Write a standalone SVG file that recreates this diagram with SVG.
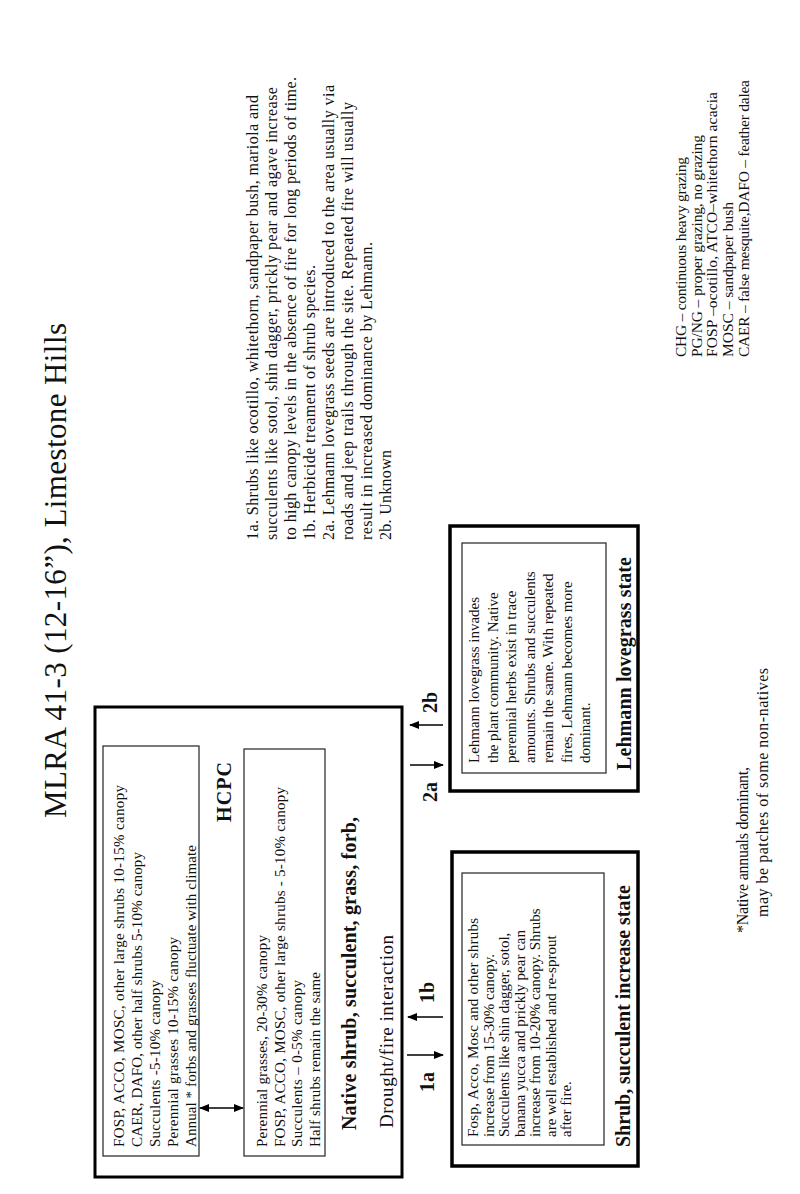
<svg xmlns="http://www.w3.org/2000/svg" width="800" height="1194" viewBox="0 0 800 1194">
<defs>
<style>
text{font-family:"Liberation Serif","Times New Roman",serif;fill:#111;}
.t15{font-size:15px;}
.t16{font-size:16px;}
.t14{font-size:15.5px;}
.fn{font-size:16px;}
.b20{font-size:20px;font-weight:bold;}
.title{font-size:31px;}
.outer{fill:none;stroke:#000;stroke-width:3.5;}
.main{fill:none;stroke:#000;stroke-width:3;}
.inner{fill:none;stroke:#222;stroke-width:1.2;}
.conn{stroke:#000;stroke-width:1.3;fill:none;}
</style>
<marker id="ah" markerWidth="10" markerHeight="8" refX="9" refY="4" orient="auto" markerUnits="userSpaceOnUse">
<path d="M0,0 L10,4 L0,8 Z" fill="#000"/>
</marker>
<marker id="ahs" markerWidth="10" markerHeight="8" refX="1" refY="4" orient="auto" markerUnits="userSpaceOnUse">
<path d="M10,0 L0,4 L10,8 Z" fill="#000"/>
</marker>
</defs>
<rect width="800" height="1194" fill="#fff"/>

<g id="title">
<text class="title" transform="translate(66,818) rotate(-90)" textLength="495">MLRA 41-3 (12-16”), Limestone Hills</text>
</g>

<g id="notes">
<text class="t16" transform="translate(258,540) rotate(-90)" textLength="445">1a. Shrubs like ocotillo, whitethorn, sandpaper bush, mariola and</text>
<text class="t16" transform="translate(277,540) rotate(-90)" textLength="453">succulents like sotol, shin dagger, prickly pear and agave increase</text>
<text class="t16" transform="translate(296,540) rotate(-90)" textLength="463">to high canopy levels in the absence of fire for long periods of time.</text>
<text class="t16" transform="translate(315,540) rotate(-90)" textLength="275">1b. Herbicide treament of shrub species.</text>
<text class="t16" transform="translate(334,540) rotate(-90)" textLength="455">2a. Lehmann lovegrass seeds are introduced to the area usually via</text>
<text class="t16" transform="translate(353,540) rotate(-90)" textLength="438">roads and jeep trails through the site. Repeated fire will usually</text>
<text class="t16" transform="translate(372,540) rotate(-90)" textLength="298">result in increased dominance by Lehmann.</text>
<text class="t16" transform="translate(391,540) rotate(-90)" textLength="90">2b. Unknown</text>
</g>

<g id="legend">
<text class="t14" transform="translate(686,357) rotate(-90)" textLength="200">CHG – continuous heavy grazing</text>
<text class="t14" transform="translate(702,357) rotate(-90)" textLength="222">PG/NG – proper grazing, no grazing</text>
<text class="t14" transform="translate(717,357) rotate(-90)" textLength="265">FOSP –ocotillo, ATCO–whitethorn acacia</text>
<text class="t14" transform="translate(733,357) rotate(-90)" textLength="155">MOSC – sandpaper bush</text>
<text class="t14" transform="translate(749,357) rotate(-90)" textLength="277">CAER – false mesquite,DAFO – feather dalea</text>
</g>

<g id="footnote">
<text class="fn" transform="translate(748,933) rotate(-90)" textLength="166">*Native annuals dominant,</text>
<text class="fn" transform="translate(768,917) rotate(-90)" textLength="249">may be patches of some non-natives</text>
</g>

<g id="hcpc-state">
<rect class="main" x="95" y="707" width="307" height="470"/>
<g id="hcpc-a">
<rect class="inner" x="103" y="746" width="96" height="410"/>
<text class="t15" transform="translate(124,1147) rotate(-90)" textLength="362">FOSP, ACCO, MOSC, other large shrubs 10-15%  canopy</text>
<text class="t15" transform="translate(142,1147) rotate(-90)" textLength="295">CAER, DAFO, other half shrubs 5-10% canopy</text>
<text class="t15" transform="translate(160,1147) rotate(-90)" textLength="167">Succulents -5-10% canopy</text>
<text class="t15" transform="translate(178,1147) rotate(-90)" textLength="210">Perennial grasses 10-15% canopy</text>
<text class="t15" transform="translate(196,1147) rotate(-90)" textLength="302">Annual * forbs and grasses fluctuate with climate</text>
</g>
<g id="hcpc-b">
<rect class="inner" x="244" y="749" width="81" height="407"/>
<text class="t15" transform="translate(267,1147) rotate(-90)" textLength="212">Perennial grasses, 20-30% canopy</text>
<text class="t15" transform="translate(285,1147) rotate(-90)" textLength="360">FOSP, ACCO, MOSC, other large shrubs - 5-10% canopy</text>
<text class="t15" transform="translate(302,1147) rotate(-90)" textLength="167">Succulents – 0-5% canopy</text>
<text class="t15" transform="translate(320,1147) rotate(-90)" textLength="175">Half shrubs remain the same</text>
</g>
<text class="b20" transform="translate(231,822) rotate(-90)" textLength="60">HCPC</text>
<text class="b20" transform="translate(356,1130) rotate(-90)" textLength="313">Native shrub, succulent, grass, forb,</text>
<text style="font-size:19px" transform="translate(393,1128) rotate(-90)" textLength="193">Drought/fire interaction</text>
</g>

<g id="shrub-state">
<rect class="outer" x="452" y="852" width="186" height="314"/>
<rect class="inner" x="462" y="873" width="142" height="272"/>
<text class="t15" transform="translate(478,1137) rotate(-90)" textLength="219">Fosp, Acco, Mosc and other shrubs</text>
<text class="t15" transform="translate(493.5,1137) rotate(-90)">increase from 15-30% canopy.</text>
<text class="t15" transform="translate(509,1137) rotate(-90)">Succulents like shin dagger, sotol,</text>
<text class="t15" transform="translate(524.5,1137) rotate(-90)">banana yucca and prickly pear can</text>
<text class="t15" transform="translate(540,1137) rotate(-90)">increase from 10-20% canopy. Shrubs</text>
<text class="t15" transform="translate(555.5,1137) rotate(-90)">are well established and re-sprout</text>
<text class="t15" transform="translate(571,1137) rotate(-90)">after fire.</text>
<text class="b20" transform="translate(630,1147) rotate(-90)" textLength="262">Shrub, succulent increase state</text>
</g>

<g id="lehmann-state">
<rect class="outer" x="450" y="526" width="188" height="265"/>
<rect class="inner" x="462" y="543" width="144" height="230"/>
<text class="t15" transform="translate(479,763) rotate(-90)" textLength="166">Lehmann lovegrass invades</text>
<text class="t15" transform="translate(497.5,763) rotate(-90)">the plant community. Native</text>
<text class="t15" transform="translate(516,763) rotate(-90)">perennial herbs exist in trace</text>
<text class="t15" transform="translate(534.5,763) rotate(-90)">amounts.  Shrubs and succulents</text>
<text class="t15" transform="translate(553,763) rotate(-90)">remain the same. With repeated</text>
<text class="t15" transform="translate(571.5,763) rotate(-90)">fires, Lehmann becomes more</text>
<text class="t15" transform="translate(590,763) rotate(-90)">dominant.</text>
<text class="b20" transform="translate(631,770) rotate(-90)" textLength="213">Lehmann lovegrass state</text>
</g>

<g id="connectors">
<line class="conn" x1="200" y1="1108" x2="243" y2="1108" marker-start="url(#ahs)" marker-end="url(#ah)"/>
<line class="conn" x1="407" y1="1055" x2="443" y2="1055" marker-end="url(#ah)"/>
<line class="conn" x1="443" y1="1017" x2="408" y2="1017" marker-end="url(#ah)"/>
<line class="conn" x1="410" y1="765" x2="443" y2="765" marker-end="url(#ah)"/>
<line class="conn" x1="443" y1="725" x2="410" y2="725" marker-end="url(#ah)"/>
<text class="b20" transform="translate(434,1092) rotate(-90)">1a</text>
<text class="b20" transform="translate(434,1003) rotate(-90)">1b</text>
<text class="b20" transform="translate(437,802) rotate(-90)">2a</text>
<text class="b20" transform="translate(437,713) rotate(-90)">2b</text>
</g>
</svg>
